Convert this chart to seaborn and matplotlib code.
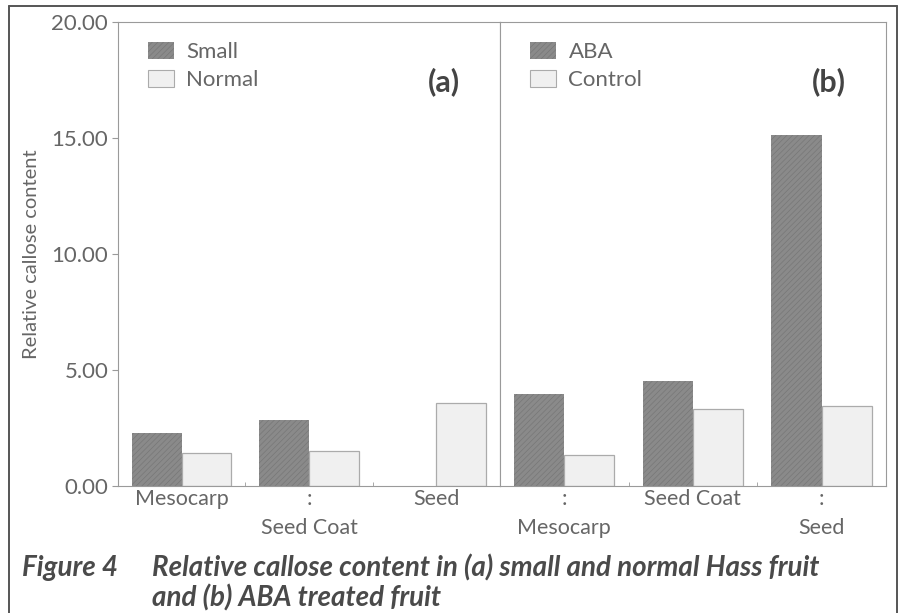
import numpy as np
import pandas as pd
import matplotlib.pyplot as plt
import seaborn as sns
from matplotlib.patches import Patch
from matplotlib.lines import Line2D

tejidos = ['Mesocarp', 'Seed Coat', 'Seed']

# painel (a): frutos pequenos x normais
small = [2.28, 2.84, 0.0]
normal = [1.42, 1.50, 3.58]

# painel (b): tratamento ABA x controle
aba = [3.97, 4.53, 15.12]
control = [1.34, 3.32, 3.45]

rotulos_a = ['Mesocarp', ':\nSeed Coat', 'Seed']
rotulos_b = [':\nMesocarp', 'Seed Coat', ':\nSeed']
yticks = [0, 5, 10, 15, 20]

df_a = pd.DataFrame({
    'tecido': tejidos * 2,
    'valor': small + normal,
    'grupo': ['Small'] * 3 + ['Normal'] * 3,
})
df_b = pd.DataFrame({
    'tecido': tejidos * 2,
    'valor': aba + control,
    'grupo': ['ABA'] * 3 + ['Control'] * 3,
})

sns.set_style('white')
plt.rcParams['font.family'] = ['Lato', 'DejaVu Sans']
plt.rcParams['hatch.linewidth'] = 0.5

escuro = '#8a8a8a'
hach = '#777777'
claro = '#f0f0f0'
cinza_txt = '#666666'
cinza_eixo = '#9a9a9a'

fig = plt.figure(figsize=(9.04, 6.13), dpi=100)
ax_a = fig.add_axes([0.1305, 0.207, 0.4225, 0.757])
ax_b = fig.add_axes([0.553, 0.207, 0.427, 0.757])


def painel(ax, df, nomes, rotulos, letra):
    sns.barplot(data=df, x='tecido', y='valor', hue='grupo', order=tejidos,
                hue_order=nomes, palette=[escuro, claro], width=0.78,
                legend=False, ax=ax)
    for barra in ax.containers[0]:
        barra.set_hatch('//////')
        barra.set_edgecolor(hach)
        barra.set_linewidth(0)
    for barra in ax.containers[1]:
        barra.set_edgecolor('#ababab')
        barra.set_linewidth(0.9)
    ax.set_xlim(-0.5, 2.5)
    ax.set_ylim(0, 20)
    ax.set_xlabel('')
    ax.set_ylabel('')
    ax.set_xticks([0, 1, 2])
    ax.set_xticklabels(rotulos, fontsize=15.5, color=cinza_txt, linespacing=1.6)
    ax.set_xticks([-0.5, 0.5, 1.5, 2.5], minor=True)
    ax.tick_params(axis='x', which='major', length=0, pad=2)
    ax.tick_params(axis='x', which='minor', length=3, direction='in',
                   color=cinza_eixo, bottom=True)
    for s in ax.spines.values():
        s.set_color(cinza_eixo)
        s.set_linewidth(0.8)
    h = [Patch(facecolor=escuro, hatch='//////', edgecolor=hach, linewidth=0),
         Patch(facecolor=claro, edgecolor='#ababab', linewidth=0.8)]
    ax.legend(h, nomes, loc='upper left', bbox_to_anchor=(0.025, 1.0),
              frameon=False, fontsize=16, labelcolor=cinza_txt,
              handlelength=1.2, handleheight=0.8, handletextpad=0.55,
              labelspacing=0.35)
    ax.text(0.853, 0.872, letra, transform=ax.transAxes, fontsize=22,
            fontweight='bold', color='#444444', ha='center', va='center')


painel(ax_a, df_a, ['Small', 'Normal'], rotulos_a, '(a)')
painel(ax_b, df_b, ['ABA', 'Control'], rotulos_b, '(b)')

ax_a.set_yticks(yticks)
ax_a.set_yticklabels([f'{v:.2f}' for v in yticks], fontsize=16, color=cinza_txt)
ax_a.tick_params(axis='y', left=True, length=4, color=cinza_eixo, pad=3)
ax_a.set_ylabel('Relative callose content', fontsize=14.5, color=cinza_txt,
                labelpad=8)
ax_b.set_yticks([])

# moldura da pagina digitalizada
for x0, y0, x1, y1 in [(9, 0, 9, 607), (9, 607, 897, 607), (897, 607, 897, 0)]:
    fig.add_artist(Line2D([x0 / 904, x1 / 904], [y0 / 613, y1 / 613],
                          color='#555555', linewidth=1.4))

fig.text(22 / 904, 1 - 568 / 613, 'Figure 4', fontsize=20, fontweight='bold',
         style='italic', color='#4a4a4a', va='center', ha='left')
fig.text(152 / 904, 1 - 583 / 613,
         'Relative callose content in (a) small and normal Hass fruit\nand (b) ABA treated fruit',
         fontsize=20, fontweight='bold', style='italic', color='#4a4a4a',
         va='center', ha='left', linespacing=1.1)

fig.savefig('out.png', dpi=100)
